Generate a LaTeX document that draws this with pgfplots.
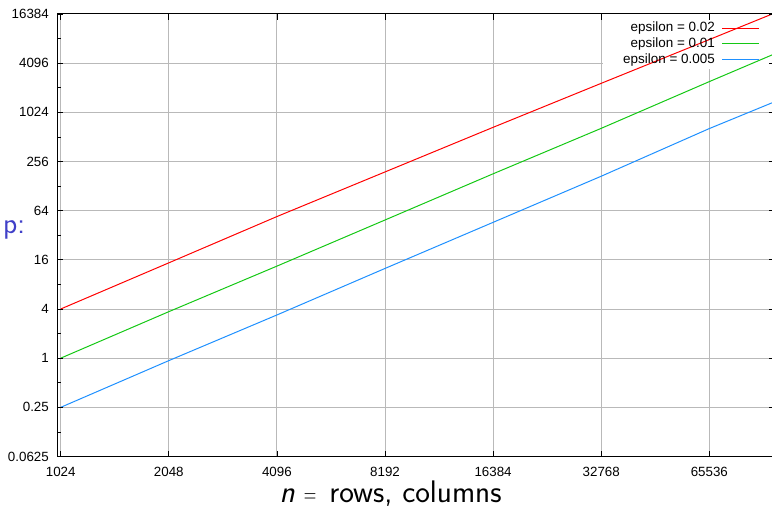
\documentclass[border=0pt]{standalone}
\usepackage{fontspec}
\newfontfamily\arial{Liberation Sans}
\usepackage{pgfplots}
\pgfplotsset{compat=1.18}
\definecolor{cred}{RGB}{255,0,0}
\definecolor{cgreen}{RGB}{20,200,20}
\definecolor{cblue}{RGB}{30,144,255}
\definecolor{cgrid}{RGB}{185,185,185}
\definecolor{plabel}{RGB}{64,64,200}
\begin{document}
\begin{tikzpicture}
\useasboundingbox (-57bp,-49.5bp) rectangle (715bp,456.5bp);
\begin{axis}[
  at={(0,0)}, anchor=south west,
  scale only axis, width=718.2bp, height=442.5bp,
  xmode=log, ymode=log,
  xmin=1000, xmax=100000, ymin=0.0625, ymax=16384,
  xtick={1024,2048,4096,8192,16384,32768,65536},
  xticklabels={1024,2048,4096,8192,16384,32768,65536},
  ytick={0.0625,0.25,1,4,16,64,256,1024,4096,16384},
  yticklabels={0.0625,0.25,1,4,16,64,256,1024,4096,16384},
  minor ytick={0.125,0.5,2,8,32,128,512,2048,8192},
  xminorticks=false,
  axis on top,
  axis line style={black, line width=1bp},
  tick style={black, line width=0.8bp},
  major tick length=6bp, minor tick length=3.5bp,
  tick align=inside,
  /pgf/number format/assume math mode=true,
  ticklabel style={font=\arial\fontsize{13.4}{15}\selectfont},
  xticklabel style={anchor=base, yshift=-19.5bp, inner sep=0pt},
  yticklabel style={anchor=east, xshift=-8bp, inner sep=0pt},
  xlabel={\textsl{n}\kern9bp\scalebox{0.7}[1]{$=$}\kern13bp rows, columns},
  every axis x label/.style={at={(rel axis cs:0.5,0)}, anchor=base, yshift=-46bp, xshift=-25.5bp, font=\sffamily\fontsize{31.3}{34}\selectfont},
  ylabel={p:},
  every axis y label/.style={at={(rel axis cs:0,0.5)}, anchor=west, xshift=-54bp, yshift=5.4bp, text=plabel, font=\sffamily\fontsize{29.5}{33}\selectfont, inner sep=0pt},
  legend style={at={(rel axis cs:0.9788,0.9866)}, anchor=north east, draw=none, fill=none, inner sep=0pt,
    font=\arial\fontsize{13.5}{15}\selectfont, row sep=0pt, column sep=7bp,
    nodes={inner sep=0pt, text height=11.8bp, text depth=4bp}},
  legend cell align=right, legend plot pos=right,
  legend image code/.code={\draw[#1] (0bp,0bp) -- (37bp,0bp);},
  grid line/.style={forget plot, cgrid, line width=1bp},
]
% grid (kept clear of the key area, as in the reference)
\addplot[grid line] coordinates {(1024,0.0625) (1024,16384)};
\addplot[grid line] coordinates {(2048,0.0625) (2048,16384)};
\addplot[grid line] coordinates {(4096,0.0625) (4096,16384)};
\addplot[grid line] coordinates {(8192,0.0625) (8192,16384)};
\addplot[grid line] coordinates {(16384,0.0625) (16384,16384)};
\addplot[grid line] coordinates {(32768,0.0625) (32768,16384)};
\addplot[grid line] coordinates {(65536,0.0625) (65536,3468)};
\addplot[grid line] coordinates {(1000,0.25) (100000,0.25)};
\addplot[grid line] coordinates {(1000,1) (100000,1)};
\addplot[grid line] coordinates {(1000,4) (100000,4)};
\addplot[grid line] coordinates {(1000,16) (100000,16)};
\addplot[grid line] coordinates {(1000,64) (100000,64)};
\addplot[grid line] coordinates {(1000,256) (100000,256)};
\addplot[grid line] coordinates {(1000,1024) (100000,1024)};
\addplot[grid line] coordinates {(1000,4096) (33150,4096)};
% data
\addplot[cred, line width=1bp] coordinates {
 (1024,4) (2048,14.7) (4096,54.2) (16384,671) (32768,2320) (65536,7970) (100000,16960)};
\addlegendentry{epsilon = 0.02}
\addplot[cgreen, line width=1bp] coordinates {
 (1024,1) (2048,3.71) (4096,13.4) (8192,49.2) (16384,181) (32768,652) (65536,2435) (100000,5366)};
\addlegendentry{epsilon = 0.01}
\addplot[cblue, line width=1bp] coordinates {
 (1024,0.25) (2048,0.933) (4096,3.38) (8192,12.55) (32768,169) (65536,648) (100000,1389)};
\addlegendentry{epsilon = 0.005}
\end{axis}
\end{tikzpicture}
\end{document}
